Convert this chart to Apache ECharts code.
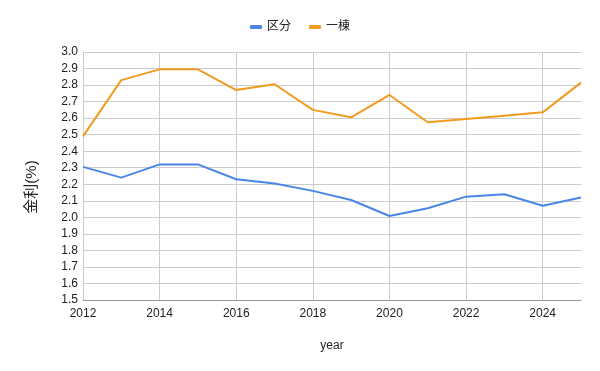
<!DOCTYPE html>
<html><head><meta charset="utf-8">
<script src="https://cdn.jsdelivr.net/npm/echarts@6/dist/echarts.min.js"></script>
<style>html,body{margin:0;padding:0;background:#fff}#c{width:600px;height:371px}</style>
</head><body><div id="c"></div>
<script>
const years = [2012,2013,2014,2015,2016,2017,2018,2019,2020,2021,2022,2023,2024,2025];
const kubun = [2.305,2.24,2.32,2.32,2.23,2.205,2.16,2.105,2.008,2.055,2.125,2.14,2.07,2.12];
const ittou = [2.49,2.83,2.895,2.895,2.77,2.805,2.65,2.605,2.74,2.575,2.595,2.615,2.635,2.815];
const seriesNames = ['区分','一棟'];
const colors = ['#4a86e8','#f29b1f'];
const font = '"Liberation Sans", Arial, "Noto Sans CJK JP", sans-serif';
const chart = echarts.init(document.getElementById('c'));
const mk = (name, vals, color) => ({
  name, type:'line', data: years.map((y,i)=>[y, vals[i]]),
  showSymbol:false, symbol:'none', lineStyle:{width:2, color}, itemStyle:{color}
});
chart.setOption({
  animation:false,
  textStyle:{fontFamily:font},
  legend:{top:16, left:'center', itemWidth:12, itemHeight:4, itemGap:18, itemTextGap:8,
    icon:'roundRect',
    textStyle:{fontSize:12, color:'#222', fontFamily:font},
    data: seriesNames},
  grid:{left:83, right:19, top:52, bottom:71},
  xAxis:{type:'value', min:2012, max:2025, interval:2,
    name:'year', nameLocation:'middle', nameGap:40,
    nameTextStyle:{fontSize:12, color:'#222'},
    axisLine:{show:true, lineStyle:{color:'#999'}}, axisTick:{show:false},
    axisLabel:{fontSize:12, color:'#222', margin:8, showMaxLabel:false, formatter:v=>String(v)},
    splitLine:{show:true, showMaxLine:false, lineStyle:{color:'#ccc', width:1}}},
  yAxis:{type:'value', min:1.5, max:3.0, interval:0.1,
    name:'金利(%)', nameLocation:'middle', nameGap:44, nameRotate:90,
    nameTextStyle:{fontSize:15, color:'#222', padding:[0,22,0,0]},
    axisLine:{show:false}, axisTick:{show:false},
    axisLabel:{fontSize:12, color:'#222', margin:5, formatter:v=>v.toFixed(1)},
    splitLine:{show:true, lineStyle:{color:'#ccc', width:1}}},
  series:[mk(seriesNames[0], kubun, colors[0]), mk(seriesNames[1], ittou, colors[1])]
});
</script></body></html>
